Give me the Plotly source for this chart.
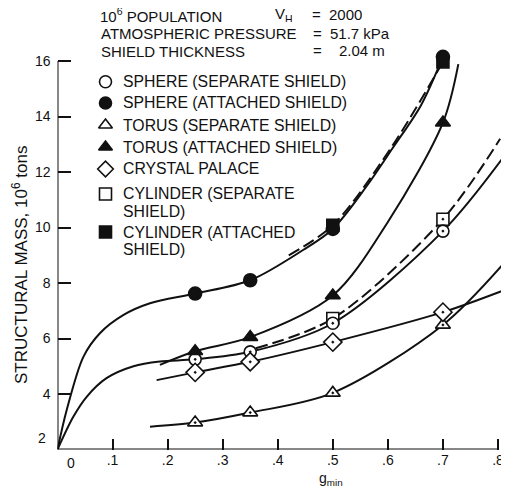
import plotly.graph_objects as go

# page body adds an 8px margin; the figure is sized/positioned to compensate
OFF = 8
W, H = 509 - OFF, 493 - OFF
FONT = "Liberation Sans, Arial, sans-serif"
INK = "#111111"

# ---- data (g_min, structural mass 10^6 tons) ----
g_pts = [0.25, 0.35, 0.5, 0.7]
sphere_sep = [5.25, 5.52, 6.55, 9.87]
sphere_att = [7.62, 8.10, 9.95, 16.15]
torus_sep = [2.97, 3.33, 4.04, 6.49]
torus_att = [5.54, 6.05, 7.55, 13.78]
crystal = [4.78, 5.16, 5.87, 6.95]
cyl_g = [0.5, 0.7]
cyl_sep = [6.72, 10.30]
cyl_att = [10.08, 15.97]
origin_g = [0.0]
origin_m = [1.9]

# traced curves
c_sph_att_g = [0, 0.0167, 0.047, 0.077, 0.12, 0.168, 0.25, 0.35, 0.446, 0.5, 0.56, 0.61, 0.66, 0.7]
c_sph_att_m = [2.0, 3.42, 5.34, 6.19, 6.85, 7.27, 7.62, 8.10, 9.19, 9.95, 11.45, 12.9, 14.4, 16.15]
c_sph_sep_g = [0, 0.0287, 0.053, 0.089, 0.138, 0.186, 0.25, 0.35, 0.5, 0.7, 0.816]
c_sph_sep_m = [2.0, 3.18, 3.90, 4.57, 5.00, 5.17, 5.25, 5.52, 6.55, 9.87, 12.7]
c_tor_att_g = [0.186, 0.25, 0.35, 0.5, 0.6, 0.7, 0.728]
c_tor_att_m = [5.05, 5.54, 6.05, 7.55, 10.2, 13.78, 15.89]
c_tor_sep_g = [0.168, 0.25, 0.35, 0.5, 0.7, 0.816]
c_tor_sep_m = [2.82, 2.97, 3.33, 4.04, 6.49, 8.83]
c_cry_g = [0.18, 0.25, 0.35, 0.5, 0.7, 0.82]
c_cry_m = [4.50, 4.78, 5.16, 5.87, 6.95, 7.81]
c_cyl_sep_g = [0.36, 0.5, 0.7, 0.804]
c_cyl_sep_m = [5.65, 6.72, 10.30, 13.2]
c_cyl_att_g = [0.42, 0.5, 0.61, 0.7]
c_cyl_att_m = [9.0, 10.08, 13.0, 15.97]

x_ticks = [0.1, 0.2, 0.3, 0.4, 0.5, 0.6, 0.7, 0.8]
x_ticktext = [".1", ".2", ".3", ".4", ".5", ".6", ".7", ".8"]
y_ticks = [4, 6, 8, 10, 12, 14, 16]

legend_labels = [
    ["SPHERE (SEPARATE SHIELD)"],
    ["SPHERE (ATTACHED SHIELD)"],
    ["TORUS (SEPARATE SHIELD)"],
    ["TORUS (ATTACHED SHIELD)"],
    ["CRYSTAL PALACE"],
    ["CYLINDER (SEPARATE", "SHIELD)"],
    ["CYLINDER (ATTACHED", "SHIELD)"],
]
legend_symbols = ["circle", "circle", "triangle-up", "triangle-up",
                  "diamond", "square", "square"]
legend_filled = [False, True, False, True, False, False, True]

def fx(px):
    return (px - OFF) / W

def fy(py):
    return 1 - (py - OFF) / H

fig = go.Figure()

def curve(gx, my, dash="solid"):
    fig.add_trace(go.Scatter(x=gx, y=my, mode="lines",
                             line=dict(color=INK, width=2, shape="spline", smoothing=0.9, dash=dash),
                             hoverinfo="skip", showlegend=False))

def marks(gx, my, symbol, filled, size=12):
    fig.add_trace(go.Scatter(x=gx, y=my, mode="markers", cliponaxis=False,
                             marker=dict(symbol=symbol, size=size,
                                         color=INK if filled else "white",
                                         line=dict(color=INK, width=1.6)),
                             hoverinfo="skip", showlegend=False))

curve(c_sph_att_g, c_sph_att_m)
curve(c_sph_sep_g, c_sph_sep_m)
curve(c_tor_att_g, c_tor_att_m)
curve(c_tor_sep_g, c_tor_sep_m)
curve(c_cry_g, c_cry_m)
curve(c_cyl_sep_g, c_cyl_sep_m, dash="12px,5px")
curve(c_cyl_att_g, c_cyl_att_m, dash="12px,5px")

marks(g_pts, sphere_att, "circle", True, 13)
marks(cyl_g, cyl_att, "square", True)
marks(cyl_g, cyl_sep, "square-dot", False)
marks(g_pts, sphere_sep, "circle-dot", False)
marks(g_pts, torus_sep, "triangle-up-dot", False, 13)
marks(g_pts, torus_att, "triangle-up", True, 13)
marks(g_pts, crystal, "diamond-dot", False, 14)
marks(origin_g, origin_m, "circle-dot", False, 13)

# legend markers on a pixel-space overlay
leg_y = [81.7, 103, 125, 147, 169, 194, 232]
leg_x = 105.5
for sym, filled, yy in zip(legend_symbols, legend_filled, leg_y):
    fig.add_trace(go.Scatter(x=[leg_x - OFF], y=[yy - OFF], xaxis="x2", yaxis="y2", mode="markers",
                             cliponaxis=False,
                             marker=dict(symbol=sym, size=12, color=INK if filled else "white",
                                         line=dict(color=INK, width=1.6)),
                             hoverinfo="skip", showlegend=False))

ann = []
def text(px, py, s, size=15, xanchor="left", angle=0, box_h=None):
    a = dict(x=fx(px), y=fy(py), xref="paper", yref="paper", text=s,
             showarrow=False, xanchor=xanchor, yanchor="middle", textangle=angle,
             font=dict(family=FONT, size=size, color=INK))
    if box_h is not None:
        a["height"] = box_h
        a["borderpad"] = 0
        a["valign"] = "middle"
    ann.append(a)

for lines, yy in zip(legend_labels, leg_y):
    for i, ln in enumerate(lines):
        text(121, yy + i * 17.5, ln, size=15.8)

text(99, 15, "10<sup>6</sup> POPULATION", box_h=14)
text(274, 15, "V<sub>H</sub>", box_h=14)
text(311, 14, "=", box_h=12)
text(328, 14, "2000", box_h=12)
text(99, 33, "ATMOSPHERIC PRESSURE")
text(311, 33, "=")
text(328, 33, "51.7 kPa")
text(99, 51, "SHIELD THICKNESS")
text(311, 50, "=")
text(337, 50, "2.04 m")

text(20, 265, "STRUCTURAL MASS, 10<sup>6</sup> tons", size=17, xanchor="center", angle=-90)
text(331, 479, "g<sub>min</sub>", size=14, xanchor="center")
text(48, 438, "2", size=14, xanchor="right")
text(71, 463, "0", size=14, xanchor="center")

x0, x1 = 0.0, 0.82
y0, y1 = 2.0, 16.3
fig.update_layout(
    width=W, height=H, margin=dict(l=0, r=0, t=0, b=0),
    paper_bgcolor="white", plot_bgcolor="rgba(0,0,0,0)",
    font=dict(family=FONT, color=INK, size=14),
    annotations=ann,
    xaxis=dict(domain=[fx(57.5), fx(509)], range=[x0, x1], showgrid=False, zeroline=False,
               showline=False, tickvals=x_ticks, ticktext=x_ticktext, ticks="inside",
               ticklen=11, tickwidth=1.5, tickcolor=INK, tickfont=dict(size=14, family=FONT),
               ticklabeloverflow="allow"),
    yaxis=dict(domain=[fy(449.5), fy(52.7)], range=[y0, y1], showgrid=False,
               zeroline=False, showline=False, tickvals=y_ticks, ticks="inside", ticklen=13,
               tickwidth=1.5, tickcolor=INK, tickfont=dict(size=14, family=FONT),
               ticklabelstandoff=6),
    xaxis2=dict(domain=[0, 1], range=[0, W], visible=False, anchor="y2", fixedrange=True),
    yaxis2=dict(domain=[0, 1], range=[H, 0], visible=False, anchor="x2", fixedrange=True),
    shapes=[
        dict(type="line", xref="x", yref="y", x0=0, x1=0.8, y0=2.0, y1=2.0,
             line=dict(color=INK, width=2)),
        dict(type="line", xref="x", yref="y", x0=0, x1=0, y0=2.0, y1=16.0,
             line=dict(color=INK, width=2)),
    ],
)

fig.write_html("out.html")
